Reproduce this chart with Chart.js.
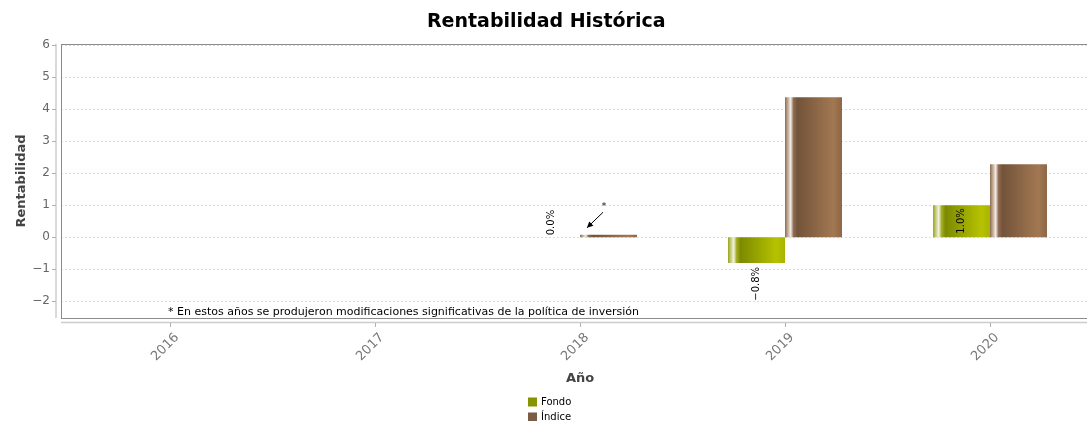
<!DOCTYPE html>
<html><head><meta charset="utf-8">
<script src="https://cdn.jsdelivr.net/npm/chart.js@4.4.1/dist/chart.umd.min.js"></script>
<style>
html,body{margin:0;padding:0;overflow:hidden;background:#fff;width:1087px;height:421px}
#wrap{position:relative;width:1100px;height:421px}
canvas{display:block}
</style></head><body>
<div id="wrap"><canvas id="c" width="1100" height="421"></canvas></div>
<script>
// ---- data ----
const categories = ['2016', '2017', '2018', '2019', '2020'];
const fondoValues = [null, null, 0.0, -0.8, 1.0];
const indiceValues = [null, null, 0.08, 4.37, 2.28];
const seriesNames = ['Fondo', 'Índice'];
const yTickValues = [-2, -1, 0, 1, 2, 3, 4, 5, 6];
const yRange = [-2.52, 6.04];
const labelledSeries = [0];
const markedCategories = ['2018'];
const chartTitle = 'Rentabilidad Histórica';
const yTitle = 'Rentabilidad';
const xTitle = 'Año';
const footnote = '* En estos años se produjeron modificaciones significativas de la política de inversión';

// ---- styles ----
const legendColors = ['#879400', '#7b5b43'];
const gradStops = [
  [[0, '#98a218'], [0.05, '#c6cc80'], [0.1, '#f2f2e4'], [0.15, '#a3ad22'], [0.22, '#7c8a00'], [0.85, '#b6c200'], [1, '#a9b400']],
  [[0, '#8c6c52'], [0.05, '#c2ab95'], [0.1, '#f3ede7'], [0.15, '#8d6b51'], [0.22, '#73533a'], [0.85, '#a27852'], [1, '#8d6647']]
];
const EXT = 6.5; // plot frame extends beyond category span
const SANS = '"DejaVu Sans", "Liberation Sans", sans-serif';

function fmtPct(v) {
  const s = Math.abs(v).toFixed(1) + '%';
  return (v < 0 ? '\u2212' : '') + s;
}

const framePlugin = {
  id: 'frame',
  beforeDatasetsDraw(chart) {
    const {ctx, chartArea: a, scales} = chart;
    const L = a.left - EXT, R = a.right + EXT;
    ctx.save();
    // gridlines
    ctx.strokeStyle = '#dcdcdc';
    ctx.lineWidth = 1;
    ctx.setLineDash([2, 2]);
    yTickValues.forEach(v => {
      const y = Math.round(scales.y.getPixelForValue(v)) + 0.5;
      ctx.beginPath(); ctx.moveTo(L, y); ctx.lineTo(R, y); ctx.stroke();
    });
    ctx.setLineDash([]);
    // axis lines (offset)
    ctx.strokeStyle = '#cccccc';
    ctx.lineWidth = 1.5;
    ctx.beginPath(); ctx.moveTo(56, a.top); ctx.lineTo(56, a.bottom); ctx.stroke();
    ctx.beginPath(); ctx.moveTo(L, a.bottom + 4.5); ctx.lineTo(R, a.bottom + 4.5); ctx.stroke();
    ctx.lineWidth = 1;
    ctx.strokeStyle = '#b0b0b0';
    yTickValues.forEach(v => {
      const y = Math.round(scales.y.getPixelForValue(v)) + 0.5;
      ctx.beginPath(); ctx.moveTo(52, y); ctx.lineTo(56, y); ctx.stroke();
    });
    categories.forEach((c, i) => {
      const x = Math.round(scales.x.getPixelForValue(i)) + 0.5;
      ctx.beginPath(); ctx.moveTo(x, a.bottom + 5); ctx.lineTo(x, a.bottom + 9); ctx.stroke();
    });
    // plot border
    ctx.strokeStyle = '#8c8c8c';
    ctx.lineWidth = 1;
    ctx.strokeRect(Math.round(L) + 0.5, Math.round(a.top) + 0.5, Math.round(R - L), Math.round(a.bottom - a.top));
    ctx.restore();

    // gradients on bars
    chart.data.datasets.forEach((ds, di) => {
      const meta = chart.getDatasetMeta(di);
      meta.data.forEach(el => {
        if (el.x == null || !isFinite(el.width)) return;
        const l = el.x - el.width / 2;
        const g = ctx.createLinearGradient(l, 0, l + el.width, 0);
        gradStops[di].forEach(s => g.addColorStop(s[0], s[1]));
        if (Object.isFrozen(el.options)) el.options = Object.assign({}, el.options);
        el.options.backgroundColor = g;
      });
    });
  },
  afterDatasetsDraw(chart) {
    const {ctx, chartArea: a, scales} = chart;
    ctx.save();
    // item labels
    ctx.font = '10px ' + SANS;
    ctx.fillStyle = '#000';
    ctx.textBaseline = 'middle';
    ctx.textAlign = 'left';
    labelledSeries.forEach(di => {
      const meta = chart.getDatasetMeta(di);
      const vals = chart.data.datasets[di].data;
      meta.data.forEach((el, i) => {
        const v = vals[i];
        if (v == null) return;
        const txt = fmtPct(v);
        const w = ctx.measureText(txt).width;
        const top = Math.min(el.y, el.base), bot = Math.max(el.y, el.base);
        const h = bot - top;
        let yStart;
        if (v >= 0) {
          yStart = (h >= w + 6) ? top + 3 + w : top - 2;
        } else {
          yStart = (h >= w + 6) ? bot - 3 : bot + 4 + w;
        }
        ctx.save();
        ctx.translate(el.x, yStart);
        ctx.rotate(-Math.PI / 2);
        ctx.fillText(txt, 0, 0);
        ctx.restore();
      });
    });
    // arrow markers
    markedCategories.forEach(c => {
      const i = categories.indexOf(c);
      if (i < 0) return;
      const cx = scales.x.getPixelForValue(i);
      const y0 = scales.y.getPixelForValue(0);
      const tip = [cx + 7, y0 - 9.5], tail = [cx + 23, y0 - 25];
      ctx.strokeStyle = '#000'; ctx.fillStyle = '#000'; ctx.lineWidth = 1;
      ctx.beginPath(); ctx.moveTo(tail[0], tail[1]); ctx.lineTo(tip[0], tip[1]); ctx.stroke();
      const ang = Math.atan2(tip[1] - tail[1], tip[0] - tail[0]);
      const hl = 6, hw = 3;
      ctx.beginPath();
      ctx.moveTo(tip[0], tip[1]);
      ctx.lineTo(tip[0] - hl * Math.cos(ang) + hw * Math.sin(ang), tip[1] - hl * Math.sin(ang) - hw * Math.cos(ang));
      ctx.lineTo(tip[0] - hl * Math.cos(ang) - hw * Math.sin(ang), tip[1] - hl * Math.sin(ang) + hw * Math.cos(ang));
      ctx.closePath(); ctx.fill();
      ctx.font = '9px ' + SANS;
      ctx.textAlign = 'center';
      ctx.fillText('*', cx + 24, y0 - 31);
      ctx.textAlign = 'left';
    });
    // footnote
    ctx.font = '11px ' + SANS;
    ctx.textBaseline = 'alphabetic';
    ctx.textAlign = 'left';
    ctx.fillStyle = '#000';
    ctx.fillText(footnote, a.left - EXT + 107, a.bottom - 3);
    ctx.restore();
  },
  afterDraw(chart) {
    const {ctx} = chart;
    ctx.save();
    ctx.font = '10px ' + SANS;
    ctx.textBaseline = 'middle';
    ctx.textAlign = 'left';
    chart.data.datasets.forEach((ds, i) => {
      const y = 402 + i * 15;
      ctx.fillStyle = legendColors[i];
      ctx.fillRect(528, y - 4.5, 9, 9);
      ctx.fillStyle = '#000';
      ctx.fillText(ds.label, 541, y);
    });
    ctx.restore();
  }
};

new Chart(document.getElementById('c'), {
  type: 'bar',
  data: {
    labels: categories,
    datasets: [
      { label: seriesNames[0], data: fondoValues, backgroundColor: (c) => legendColors[0], borderWidth: 0 },
      { label: seriesNames[1], data: indiceValues, backgroundColor: (c) => legendColors[1], borderWidth: 0 }
    ]
  },
  options: {
    responsive: false,
    animation: false,
    devicePixelRatio: 1,
    layout: { padding: { left: 0, right: 7.5, top: 0, bottom: 0 } },
    datasets: { bar: { categoryPercentage: 0.556, barPercentage: 1.0 } },
    plugins: {
      legend: { display: false },
      tooltip: { enabled: false },
      title: {
        display: true, text: chartTitle, color: '#000',
        font: { family: SANS, size: 19, weight: 'bold' },
        padding: { top: 11, bottom: 10 }
      }
    },
    scales: {
      x: {
        offset: true,
        grid: { display: false, drawTicks: false },
        border: { display: false },
        ticks: { color: '#777', font: { family: SANS, size: 13 }, minRotation: 45, maxRotation: 45, autoSkip: false, padding: 12, labelOffset: 7 },
        title: { display: true, text: xTitle, color: '#444', font: { family: SANS, size: 13, weight: 'bold' }, padding: { top: 0, bottom: 34.2 } },
        afterFit(s) { s.height = 103; }
      },
      y: {
        min: yRange[0], max: yRange[1],
        grid: { display: false, drawTicks: false },
        border: { display: false },
        afterBuildTicks(s) { s.ticks = yTickValues.map(v => ({ value: v })); },
        ticks: { color: '#666', font: { family: SANS, size: 12 }, padding: 17.5, callback: (v) => (v < 0 ? '\u2212' + Math.abs(v) : String(v)) },
        title: { display: true, text: yTitle, color: '#444', font: { family: SANS, size: 13, weight: 'bold' }, padding: { top: 14.2, bottom: 0 } },
        afterFit(s) { s.width = 67.5; }
      }
    }
  },
  plugins: [framePlugin]
});
</script>
</body></html>
